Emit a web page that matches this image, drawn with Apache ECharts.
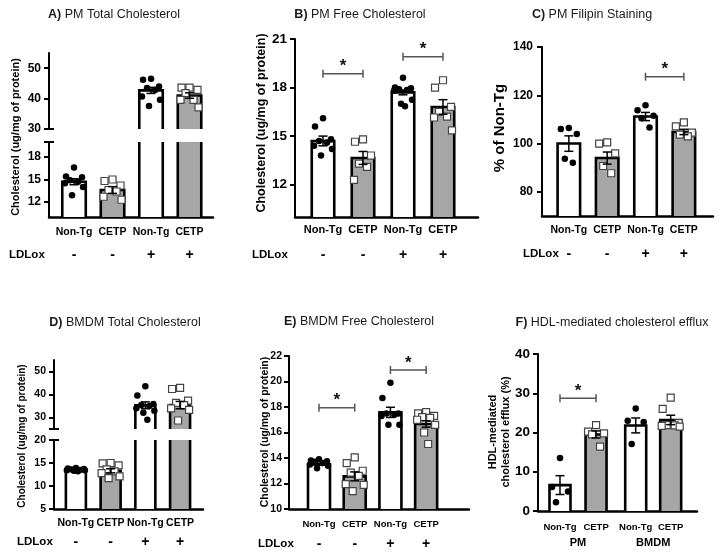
<!DOCTYPE html>
<html><head><meta charset="utf-8">
<script src="https://cdn.jsdelivr.net/npm/echarts@6/dist/echarts.min.js"></script>
<style>html,body{margin:0;padding:0;background:#fff}#c{width:725px;height:553px}</style>
</head><body><div id="c"></div>
<script>
// ---------------- DATA ----------------
const categories = ['Non-Tg', 'CETP', 'Non-Tg', 'CETP'];
const ldloxSigns = ['-', '-', '+', '+'];
const effluxGroups = ['PM', 'BMDM'];

// A) PM Total Cholesterol
const meanA = [14.7, 13.6, 42.7, 41.0];
const semA = [0.4, 0.45, 1.0, 0.9];
const ptsA = [
  [16.6, 15.4, 15.3, 14.9, 14.7, 14.5, 14.0, 12.9],
  [15.0, 14.8, 14.2, 13.6, 13.4, 12.7, 12.3],
  [46.5, 46.2, 44.0, 43.5, 42.8, 40.7, 39.6, 37.6],
  [43.6, 43.6, 42.9, 41.8, 39.6, 39.6, 37.1]
];
const ticksAUpper = [30, 40, 50];
const ticksALower = [12, 15, 18];

// B) PM Free Cholesterol
const meanB = [14.7, 13.65, 17.7, 16.8];
const semB = [0.3, 0.4, 0.15, 0.45];
const ptsB = [
  [16.1, 15.6, 14.8, 14.7, 14.6, 14.4, 14.2, 13.8],
  [14.8, 14.65, 13.8, 13.3, 13.1, 12.3],
  [18.6, 18.0, 17.95, 17.9, 17.85, 17.8, 17.25, 17.0, 16.85],
  [18.45, 18.0, 16.8, 16.5, 16.2, 16.15, 15.35]
];
const sigB = [[0, 1, 18.85], [2, 3, 19.9]];
const ticksB = [12, 15, 18, 21];

// C) PM Filipin Staining
const meanC = [100, 94, 111.2, 104.8];
const semC = [3.2, 2.5, 1.7, 1.1];
const ptsC = [
  [106.4, 106.0, 104.0, 93.7, 92.1],
  [100.5, 100.0, 95.9, 90.7, 87.7],
  [115.9, 113.8, 111.5, 110.5, 106.7],
  [108.8, 107.1, 104.5, 103.7, 103.0]
];
const sigC = [[2, 3, 127.7]];
const ticksC = [80, 100, 120, 140];

// D) BMDM Total Cholesterol
const meanD = [13.5, 13.3, 35.3, 35.4];
const semD = [0.1, 0.45, 1.5, 1.6];
const ptsD = [
  [13.9, 13.8, 13.7, 13.6, 13.5, 13.4, 13.4, 13.3, 13.2],
  [15.0, 14.9, 14.5, 13.6, 13.2, 12.8, 12.1, 11.7],
  [43.6, 39.6, 35.9, 35.4, 35.0, 34.0, 32.9, 32.1, 29.0],
  [42.9, 42.4, 37.3, 36.4, 35.4, 34.0, 33.3, 28.7]
];
const ticksDUpper = [30, 40, 50];
const ticksDLower = [5, 10, 15, 20];

// E) BMDM Free Cholesterol
const meanE = [13.5, 12.56, 17.58, 16.67];
const semE = [0.08, 0.35, 0.4, 0.25];
const ptsE = [
  [13.9, 13.8, 13.75, 13.7, 13.6, 13.5, 13.4, 13.2],
  [14.05, 13.6, 13.0, 12.85, 12.6, 11.95, 11.9, 11.4],
  [19.9, 18.7, 17.5, 17.5, 17.4, 17.3, 16.6, 16.6],
  [17.6, 17.5, 17.3, 17.2, 17.15, 17.0, 16.6, 16.0, 15.1]
];
const sigE = [[0, 1, 17.95], [2, 3, 20.9]];
const ticksE = [10, 12, 14, 16, 18, 20, 22];

// F) HDL-mediated cholesterol efflux
const meanF = [6.6, 19.5, 21.8, 23.2];
const semF = [2.4, 0.9, 1.9, 1.2];
const ptsF = [
  [13.5, 6.1, 5.0, 2.2],
  [21.9, 20.2, 19.8, 19.5, 16.4],
  [26.1, 23.0, 22.7, 17.1],
  [28.9, 26.0, 22.4, 21.9, 21.8, 21.7, 21.5]
];
const sigF = [[0, 1, 28.7]];
const ticksF = [0, 10, 20, 30, 40];

// ---------------- STYLE / LAYOUT ----------------
const FONT = '"Liberation Sans", Arial, Helvetica, sans-serif';
const GRAY = '#a6a6a6';
const JIT = [0, -8, 8, -4, 4, -9, 9, -2, 2, 6];
const XPOS = [0, 1, 2, 3];
const XPOS_F = [0, 1, 2.1, 3.07];

const grids = [], xAxes = [], yAxes = [], series = [];

function barRender(bw) {
  return function (params, api) {
    const cs = params.coordSys;
    const c = api.coord([api.value(0), api.value(1)]);
    const bottom = cs.y + cs.height;
    let top = c[1];
    if (top >= bottom) return null;
    const open = top < cs.y;
    if (open) top = cs.y;
    const l = c[0] - bw / 2, r = c[0] + bw / 2;
    const fill = params.dataIndex % 2 ? GRAY : '#fff';
    const kids = [{ type: 'rect', shape: { x: l, y: top, width: bw, height: bottom - top }, style: { fill: fill } }];
    const st = { stroke: '#000', lineWidth: 2.6, fill: 'none' };
    if (open) {
      kids.push({ type: 'line', shape: { x1: l, y1: top, x2: l, y2: bottom }, style: st });
      kids.push({ type: 'line', shape: { x1: r, y1: top, x2: r, y2: bottom }, style: st });
    } else {
      kids.push({ type: 'polyline', shape: { points: [[l, bottom], [l, top], [r, top], [r, bottom]] }, style: st });
    }
    return { type: 'group', children: kids };
  };
}
function errRender(params, api) {
  const cs = params.coordSys;
  const x = api.value(0), m = api.value(1), s = api.value(2);
  const pm = api.coord([x, m]);
  if (pm[1] < cs.y || pm[1] > cs.y + cs.height) return null;
  const pt = api.coord([x, m + s]), pb = api.coord([x, m - s]);
  const hw = 4.5, st = { stroke: '#000', lineWidth: 1.5 };
  return { type: 'group', children: [
    { type: 'line', shape: { x1: pm[0], y1: pt[1], x2: pm[0], y2: pb[1] }, style: st },
    { type: 'line', shape: { x1: pm[0] - hw, y1: pt[1], x2: pm[0] + hw, y2: pt[1] }, style: st },
    { type: 'line', shape: { x1: pm[0] - hw, y1: pb[1], x2: pm[0] + hw, y2: pb[1] }, style: st }
  ] };
}
function sigRender(params, api) {
  const a = api.coord([api.value(0), api.value(2)]);
  const b = api.coord([api.value(1), api.value(2)]);
  const st = { stroke: '#555', lineWidth: 1.5 };
  return { type: 'group', children: [
    { type: 'line', shape: { x1: a[0], y1: a[1], x2: b[0], y2: b[1] }, style: st },
    { type: 'line', shape: { x1: a[0], y1: a[1] - 4, x2: a[0], y2: a[1] + 4 }, style: st },
    { type: 'line', shape: { x1: b[0], y1: b[1] - 4, x2: b[0], y2: b[1] + 4 }, style: st },
    { type: 'text', x: (a[0] + b[0]) / 2, y: a[1] - 7, style: { text: '*', fill: '#111', font: 'bold 17px ' + FONT, textAlign: 'center', textVerticalAlign: 'middle' } }
  ] };
}

function addGrid(p) {
  const gi = grids.length;
  grids.push({ left: p.left, top: p.top, width: p.width, height: p.height });
  const xp = p.xPos;
  xAxes.push({
    type: 'value', gridIndex: gi, min: p.xMin, max: p.xMax, show: p.showX,
    axisLine: { show: true, onZero: false, lineStyle: { color: '#000', width: 2.5 } },
    axisTick: { show: false }, splitLine: { show: false },
    axisLabel: {
      show: p.showX, customValues: xp, margin: p.xMargin, hideOverlap: false,
      formatter: function (v) {
        const i = xp.indexOf(v);
        if (i < 0) return '';
        return p.signs ? '{c|' + categories[i] + '}\n{s|' + ldloxSigns[i] + '}' : '{c|' + categories[i] + '}';
      },
      rich: {
        c: { fontFamily: FONT, fontWeight: 'bold', fontSize: p.xFont, lineHeight: 14, color: '#000' },
        s: { fontFamily: FONT, fontWeight: 'bold', fontSize: 14, lineHeight: p.signLH || 30, color: '#000' }
      }
    }
  });
  yAxes.push({
    type: 'value', gridIndex: gi, min: p.yMin, max: p.yMax,
    axisLine: { show: true, onZero: false, lineStyle: { color: '#000', width: 2 },
      symbol: [p.capBottom ? 'rect' : 'none', p.capTop ? 'rect' : 'none'], symbolSize: [10, 2] },
    axisTick: { show: true, length: 5, customValues: p.ticks, lineStyle: { color: '#000', width: 2 } },
    axisLabel: { customValues: p.ticks, margin: p.yMargin || 8, fontFamily: FONT, fontWeight: 'bold', fontSize: p.yFont, color: '#000' },
    splitLine: { show: false }
  });
  const xs = xp;
  series.push({ type: 'custom', xAxisIndex: gi, yAxisIndex: gi, z: 2, clip: false,
    renderItem: barRender(p.bw), encode: { x: 0, y: 1 },
    data: p.mean.map((m, i) => [xs[i], m]) });
  [0, 1].forEach(function (kind) {
    const data = [];
    p.pts.forEach(function (arr, i) {
      if (i % 2 !== kind) return;
      arr.forEach(function (v, k) { data.push({ value: [xs[i], v], symbolOffset: [JIT[k % JIT.length], 0] }); });
    });
    series.push({ type: 'scatter', xAxisIndex: gi, yAxisIndex: gi, z: 3, clip: true, silent: true,
      symbol: kind ? 'rect' : 'circle', symbolSize: kind ? 7 : 6.5,
      itemStyle: kind ? { color: '#fff', borderColor: '#444', borderWidth: 1.2, opacity: 1 } : { color: '#000', opacity: 1 },
      data: data });
  });
  series.push({ type: 'custom', xAxisIndex: gi, yAxisIndex: gi, z: 4, clip: false,
    renderItem: errRender, encode: { x: 0, y: 1 },
    data: p.mean.map((m, i) => [xs[i], m, p.sem[i]]) });
  if (p.sig) {
    series.push({ type: 'custom', xAxisIndex: gi, yAxisIndex: gi, z: 4, clip: false,
      renderItem: sigRender, encode: { x: 0, y: 2 },
      data: p.sig.map(s => [xs[s[0]], xs[s[1]], s[2]]) });
  }
  return gi;
}

// A
addGrid({ left: 49, top: 53, width: 164, height: 76, xMin: -0.65, xMax: 3.61, yMin: 30, yMax: 55, ticks: ticksAUpper, yFont: 12, showX: false, capBottom: true, xPos: XPOS, bw: 23.5, mean: meanA, sem: semA, pts: ptsA });
addGrid({ left: 49, top: 142, width: 164, height: 75, xMin: -0.65, xMax: 3.61, yMin: 10, yMax: 20, ticks: ticksALower, yFont: 12, showX: true, capTop: true, xPos: XPOS, xFont: 10.5, xMargin: 8, signs: true, signLH: 32, bw: 23.5, mean: meanA, sem: semA, pts: ptsA });
// B
addGrid({ left: 295, top: 39, width: 183, height: 178, xMin: -0.7, xMax: 3.875, yMin: 10, yMax: 21, ticks: ticksB, yFont: 13.5, showX: true, xPos: XPOS, xFont: 11, xMargin: 6, signs: true, signLH: 36, bw: 22.5, mean: meanB, sem: semB, pts: ptsB, sig: sigB });
// C
addGrid({ left: 542, top: 47, width: 171, height: 169, xMin: -0.7, xMax: 3.76, yMin: 70, yMax: 140, ticks: ticksC, yFont: 12, yMargin: 9, showX: true, xPos: XPOS, xFont: 10.5, xMargin: 7, signs: true, signLH: 34, bw: 22.5, mean: meanC, sem: semC, pts: ptsC, sig: sigC });
// D
addGrid({ left: 54, top: 360, width: 149, height: 69, xMin: -0.63, xMax: 3.66, yMin: 25, yMax: 55, ticks: ticksDUpper, yFont: 10.5, showX: false, capBottom: true, xPos: XPOS, bw: 20, mean: meanD, sem: semD, pts: ptsD });
addGrid({ left: 54, top: 440, width: 149, height: 69, xMin: -0.63, xMax: 3.66, yMin: 5, yMax: 20, ticks: ticksDLower, yFont: 10.5, showX: true, capTop: true, xPos: XPOS, xFont: 10.5, xMargin: 7, signs: true, signLH: 24, bw: 20, mean: meanD, sem: semD, pts: ptsD });
// E
addGrid({ left: 289, top: 356, width: 180, height: 153, xMin: -0.84, xMax: 4.2, yMin: 10, yMax: 22, ticks: ticksE, yFont: 10.5, yMargin: 7, showX: true, xPos: XPOS, xFont: 9.5, xMargin: 8, signs: true, signLH: 26, bw: 22, mean: meanE, sem: semE, pts: ptsE, sig: sigE });
// F
addGrid({ left: 538, top: 354, width: 159, height: 157, xMin: -0.61, xMax: 3.8, yMin: 0, yMax: 40, ticks: ticksF, yFont: 13.5, showX: true, xPos: XPOS_F, xFont: 9.5, xMargin: 9, signs: false, bw: 21, mean: meanF, sem: semF, pts: ptsF, sig: sigF });

function titleText(letter, rest, x, y) {
  return { type: 'text', x: x, y: y, style: { text: '{b|' + letter + '}' + rest, rich: { b: { fontWeight: 'bold', fontFamily: FONT, fontSize: 12.5, fill: '#1a1a1a' } }, font: '12.5px ' + FONT, fill: '#1a1a1a', textAlign: 'center', textVerticalAlign: 'middle' } };
}
function yName(text, x, y, size, lh) {
  return { type: 'text', x: x, y: y, rotation: Math.PI / 2, style: { text: text, font: 'bold ' + size + 'px ' + FONT, fill: '#000', textAlign: 'center', textVerticalAlign: 'middle', lineHeight: lh || size } };
}
function plain(text, x, y, size, align) {
  return { type: 'text', x: x, y: y, style: { text: text, font: 'bold ' + size + 'px ' + FONT, fill: '#000', textAlign: align || 'left', textVerticalAlign: 'middle' } };
}

const chart = echarts.init(document.getElementById('c'), null, { renderer: 'canvas' });
chart.setOption({ backgroundColor: '#fff', animation: false, grid: grids, xAxis: xAxes, yAxis: yAxes, series: series });

const fx = v => chart.convertToPixel({ xAxisIndex: 7 }, v);
const graphics = [
  titleText('A)', ' PM Total Cholesterol', 114, 15),
  titleText('B)', ' PM Free Cholesterol', 360, 15),
  titleText('C)', ' PM Filipin Staining', 592, 15),
  titleText('D)', ' BMDM Total Cholesterol', 125, 323),
  titleText('E)', ' BMDM Free Cholesterol', 359, 322),
  titleText('F)', ' HDL-mediated cholesterol efflux', 612, 323),
  yName('Cholesterol (ug/mg of protein)', 16, 137, 11),
  yName('Cholesterol (ug/mg of protein)', 262, 123, 12.5),
  yName('% of Non-Tg', 500, 128, 15),
  yName('Cholesterol (ug/mg of protein)', 22, 436, 10),
  yName('Cholesterol (ug/mg of protein)', 265, 432, 10.5),
  yName('HDL-mediated\ncholesterol efflux (%)', 499.5, 432, 11, 13),
  plain('LDLox', 9, 255, 11.5),
  plain('LDLox', 252, 255, 11.5),
  plain('LDLox', 523, 254, 11.5),
  plain('LDLox', 17, 542, 11.5),
  plain('LDLox', 258, 544, 11.5),
  plain(effluxGroups[0], (fx(XPOS_F[0]) + fx(XPOS_F[1])) / 2, 543, 11, 'center'),
  plain(effluxGroups[1], (fx(XPOS_F[2]) + fx(XPOS_F[3])) / 2, 543, 11, 'center')
];
chart.setOption({ graphic: graphics });
</script></body></html>
